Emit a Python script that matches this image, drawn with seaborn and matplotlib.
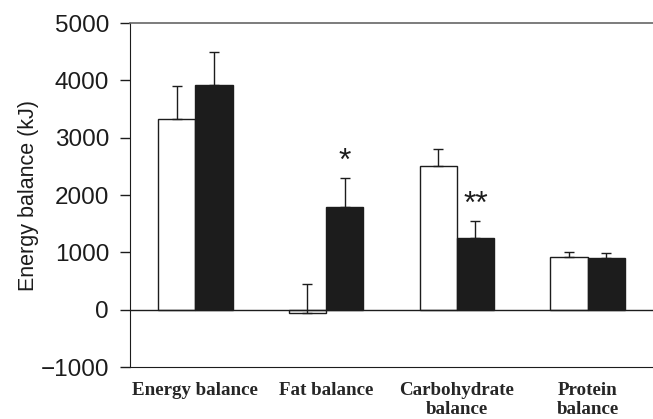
import matplotlib
matplotlib.use("Agg")
import matplotlib.pyplot as plt
import seaborn as sns
import pandas as pd
import numpy as np

# Donnees
categories = ["Energy balance", "Fat balance", "Carbohydrate\nbalance", "Protein\nbalance"]
groups = ["Open", "Filled"]
open_values = [3330, -50, 2500, 915]
open_sd = [565, 500, 295, 95]
filled_values = [3925, 1800, 1245, 905]
filled_sd = [565, 490, 310, 90]
stars = ["", "*", "**", ""]

df = pd.DataFrame({
    "category": categories * 2,
    "group": [groups[0]] * 4 + [groups[1]] * 4,
    "value": open_values + filled_values,
})

sns.set_style("ticks")
plt.rcParams["font.family"] = ["Liberation Sans", "DejaVu Sans"]

fig = plt.figure(figsize=(6.53, 4.19), dpi=100)
ax = fig.add_axes([0.199, 0.124, 0.801, 0.821])

sns.barplot(
    data=df, x="category", y="value", hue="group", hue_order=groups,
    order=categories, palette=["white", "#1c1c1c"], edgecolor="#1c1c1c",
    linewidth=1.0, width=0.57, errorbar=None, legend=False, ax=ax,
)

# Barres d'erreur (vers le haut uniquement) et etoiles
sds = open_sd + filled_sd
vals = open_values + filled_values
for bar, v, sd in zip(ax.patches[:8], vals, sds):
    xc = bar.get_x() + bar.get_width() / 2
    ax.errorbar(xc, v, yerr=[[0], [sd]], fmt="none", ecolor="#1c1c1c",
                elinewidth=1.0, capsize=3.5, capthick=1.0, zorder=3)

filled_bars = ax.patches[4:8]
for bar, v, sd, s in zip(filled_bars, filled_values, filled_sd, stars):
    if s:
        xc = bar.get_x() + bar.get_width() / 2
        ax.text(xc, v + sd + 20, s, ha="center", va="bottom",
                fontsize=23, color="#1c1c1c")

ax.axhline(0, color="#1c1c1c", linewidth=1.0, zorder=1)

ax.set_ylim(-1000, 5000)
ax.set_xlim(-0.5, 3.5)
ax.set_yticks(np.arange(-1000, 5001, 1000))
ax.set_yticklabels(["\u22121000"] + [str(t) for t in range(0, 5001, 1000)])
ax.tick_params(axis="y", labelsize=17.5, length=7, width=1, pad=8,
               colors="#1c1c1c")
ax.tick_params(axis="x", length=0, pad=11)
for lab in ax.get_xticklabels():
    lab.set_fontfamily("Liberation Serif")
    lab.set_fontweight("bold")
    lab.set_fontsize(13.7)
    lab.set_linespacing(1.1)
    lab.set_verticalalignment("top")

ax.set_xlabel("")
ax.set_ylabel("Energy balance (kJ)", fontsize=15.5, color="#1c1c1c",
              labelpad=1)

ax.spines["right"].set_visible(False)
ax.spines["top"].set_color("#666666")
ax.spines["top"].set_linewidth(1.2)
ax.spines["left"].set_color("#1c1c1c")
ax.spines["bottom"].set_color("#1c1c1c")

fig.savefig("out.png", dpi=100)
